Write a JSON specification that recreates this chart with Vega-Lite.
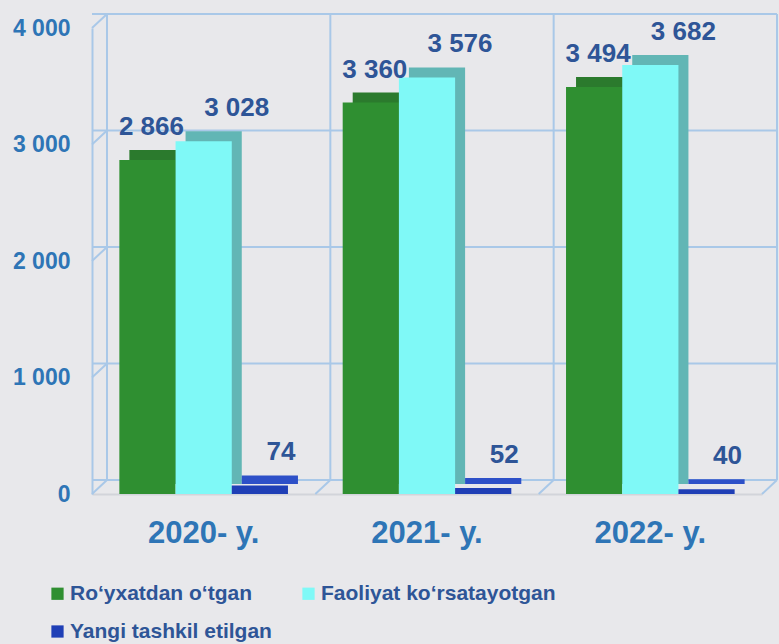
{
  "$schema": "https://vega.github.io/schema/vega-lite/v6.json",
  "width": 670,
  "height": 466,
  "autosize": {"type": "none"},
  "padding": {"left": 92, "top": 28, "right": 17, "bottom": 150},
  "background": "#e8e8eb",
  "config": {
    "view": {"stroke": null},
    "font": "Liberation Sans",
    "numberFormat": ",d",
    "locale": {"number": {"decimal": ",", "thousands": " ", "grouping": [3], "currency": ["", ""]}},
    "axisX": {"labelAngle": 0, "labelFontSize": 31, "labelFontWeight": "bold", "labelColor": "#2e75b6", "labelPadding": 24, "ticks": false, "grid": false, "domainColor": "#d2d4da", "domainWidth": 2},
    "axisY": {"tickCount": 5, "labelFontSize": 23, "labelFontWeight": "bold", "labelColor": "#2e75b6", "labelPadding": 22, "ticks": false, "grid": false, "domainColor": "#a9c8e8", "domainWidth": 2}
  },
  "datasets": {
    "bars": [
      {"year": "2020- y.", "series": "Ro‘yxatdan o‘tgan", "value": 2866},
      {"year": "2020- y.", "series": "Faoliyat ko‘rsatayotgan", "value": 3028},
      {"year": "2020- y.", "series": "Yangi tashkil etilgan", "value": 74},
      {"year": "2021- y.", "series": "Ro‘yxatdan o‘tgan", "value": 3360},
      {"year": "2021- y.", "series": "Faoliyat ko‘rsatayotgan", "value": 3576},
      {"year": "2021- y.", "series": "Yangi tashkil etilgan", "value": 52},
      {"year": "2022- y.", "series": "Ro‘yxatdan o‘tgan", "value": 3494},
      {"year": "2022- y.", "series": "Faoliyat ko‘rsatayotgan", "value": 3682},
      {"year": "2022- y.", "series": "Yangi tashkil etilgan", "value": 40}
    ],
    "ticks": [{"v": 0}, {"v": 1000}, {"v": 2000}, {"v": 3000}, {"v": 4000}],
    "years": [{"year": "2020- y."}, {"year": "2021- y."}, {"year": "2022- y."}]
  },
  "layer": [
    {
      "data": {"name": "ticks"},
      "mark": {"type": "rule", "xOffset": 15, "yOffset": -14, "color": "#a9c8e8", "strokeWidth": 2},
      "encoding": {"y": {"field": "v", "type": "quantitative", "title": null, "scale": {"domain": [0, 4000], "nice": false}}}
    },
    {
      "data": {"name": "ticks"},
      "mark": {"type": "rule", "x2Offset": 15, "y2Offset": -14, "color": "#a9c8e8", "strokeWidth": 2},
      "encoding": {
        "x": {"datum": "2020- y.", "type": "nominal", "bandPosition": -0.1623},
        "x2": {"datum": "2020- y.", "bandPosition": -0.1623},
        "y": {"field": "v", "type": "quantitative", "title": null},
        "y2": {"field": "v"}
      }
    },
    {
      "data": {"name": "years"},
      "mark": {"type": "rule", "xOffset": 15, "yOffset": -14, "y2Offset": -14, "color": "#a9c8e8", "strokeWidth": 2},
      "encoding": {
        "x": {"field": "year", "type": "nominal", "title": null, "bandPosition": -0.1623, "scale": {"paddingInner": 0.245, "paddingOuter": 0.1225}},
        "y": {"datum": 0, "type": "quantitative"},
        "y2": {"datum": 4000}
      }
    },
    {
      "data": {"name": "years"},
      "transform": [{"filter": "datum.year == '2022- y.'"}],
      "mark": {"type": "rule", "xOffset": 15, "yOffset": -14, "y2Offset": -14, "color": "#a9c8e8", "strokeWidth": 2},
      "encoding": {
        "x": {"field": "year", "type": "nominal", "title": null, "bandPosition": 1.1623},
        "y": {"datum": 0, "type": "quantitative"},
        "y2": {"datum": 4000}
      }
    },
    {
      "data": {"name": "years"},
      "mark": {"type": "rule", "x2Offset": 15, "y2Offset": -14, "color": "#a9c8e8", "strokeWidth": 2},
      "encoding": {
        "x": {"field": "year", "type": "nominal", "title": null, "bandPosition": 1.1623},
        "x2": {"field": "year", "bandPosition": 1.1623},
        "y": {"datum": 0, "type": "quantitative"},
        "y2": {"datum": 0}
      }
    },
    {
      "data": {"name": "bars"},
      "transform": [{"filter": "datum.series == 'Ro‘yxatdan o‘tgan'"}],
      "mark": {"type": "bar", "width": {"band": 0.3333}, "xOffset": -46.2, "yOffset": -10, "color": "#2b7a2d"},
      "encoding": {
        "x": {"field": "year", "type": "nominal", "title": null},
        "y": {"field": "value", "type": "quantitative", "title": null}
      }
    },
    {
      "data": {"name": "bars"},
      "transform": [{"filter": "datum.series == 'Faoliyat ko‘rsatayotgan'"}],
      "mark": {"type": "bar", "width": {"band": 0.3333}, "xOffset": 10, "yOffset": -10, "color": "#62b6b5"},
      "encoding": {
        "x": {"field": "year", "type": "nominal", "title": null},
        "y": {"field": "value", "type": "quantitative", "title": null}
      }
    },
    {
      "data": {"name": "bars"},
      "transform": [{"filter": "datum.series == 'Yangi tashkil etilgan'"}],
      "mark": {"type": "bar", "width": {"band": 0.3333}, "xOffset": 66.2, "yOffset": -10, "color": "#2d50c8"},
      "encoding": {
        "x": {"field": "year", "type": "nominal", "title": null},
        "y": {"field": "value", "type": "quantitative", "title": null}
      }
    },
    {
      "data": {"name": "bars"},
      "mark": {"type": "bar"},
      "encoding": {
        "x": {"field": "year", "type": "nominal", "title": null},
        "xOffset": {"field": "series", "type": "nominal", "scale": {"domain": ["Ro‘yxatdan o‘tgan", "Faoliyat ko‘rsatayotgan", "Yangi tashkil etilgan"]}},
        "y": {"field": "value", "type": "quantitative", "title": null},
        "color": {
          "field": "series", "type": "nominal",
          "scale": {"domain": ["Ro‘yxatdan o‘tgan", "Faoliyat ko‘rsatayotgan", "Yangi tashkil etilgan"], "range": ["#2f8f31", "#7ff9f7", "#1f3fb6"]},
          "legend": {
            "title": null, "orient": "none", "legendX": -45, "legendY": 555, "columns": 2, "direction": "horizontal", "columnPadding": 26, "rowPadding": 16,
            "labelFont": "Liberation Sans", "labelFontSize": 21, "labelFontWeight": "bold", "labelColor": "#2e5597", "labelLimit": 400,
            "symbolType": "square", "symbolSize": 150, "symbolStrokeWidth": 0, "labelOffset": 2
          }
        }
      }
    },
    {
      "data": {"name": "bars"},
      "transform": [{"filter": "datum.series == 'Ro‘yxatdan o‘tgan'"}],
      "mark": {"type": "text", "dx": 4, "dy": -25, "baseline": "alphabetic", "fontSize": 26, "fontWeight": "bold", "color": "#2e5597"},
      "encoding": {
        "x": {"field": "year", "type": "nominal", "title": null},
        "xOffset": {"field": "series", "type": "nominal"},
        "y": {"field": "value", "type": "quantitative", "title": null},
        "text": {"field": "value", "type": "quantitative", "format": ",d"}
      }
    },
    {
      "data": {"name": "bars"},
      "transform": [{"filter": "datum.series == 'Faoliyat ko‘rsatayotgan'"}],
      "mark": {"type": "text", "dx": 33, "dy": -25, "baseline": "alphabetic", "fontSize": 26, "fontWeight": "bold", "color": "#2e5597"},
      "encoding": {
        "x": {"field": "year", "type": "nominal", "title": null},
        "xOffset": {"field": "series", "type": "nominal"},
        "y": {"field": "value", "type": "quantitative", "title": null},
        "text": {"field": "value", "type": "quantitative", "format": ",d"}
      }
    },
    {
      "data": {"name": "bars"},
      "transform": [{"filter": "datum.series == 'Yangi tashkil etilgan'"}],
      "mark": {"type": "text", "dx": 21, "dy": -25, "baseline": "alphabetic", "fontSize": 26, "fontWeight": "bold", "color": "#2e5597"},
      "encoding": {
        "x": {"field": "year", "type": "nominal", "title": null},
        "xOffset": {"field": "series", "type": "nominal"},
        "y": {"field": "value", "type": "quantitative", "title": null},
        "text": {"field": "value", "type": "quantitative", "format": ",d"}
      }
    }
  ]
}
